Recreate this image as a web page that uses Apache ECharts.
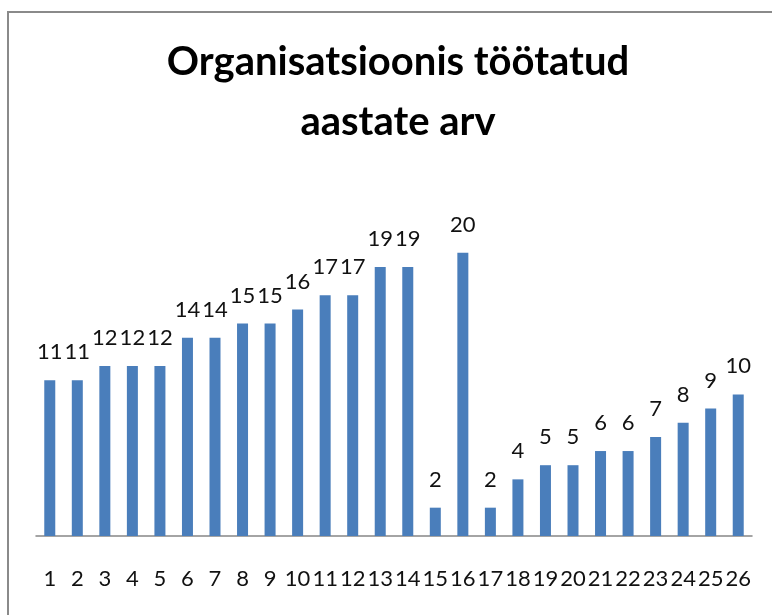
<!DOCTYPE html>
<html>
<head>
<meta charset="utf-8">
<script src="https://cdn.jsdelivr.net/npm/echarts@6/dist/echarts.min.js"></script>
<style>
  html, body { margin: 0; padding: 0; background: #fff; }
  #chart { width: 772px; height: 615px; }
</style>
</head>
<body>
<div id="chart"></div>
<script>
// category labels along the x axis
const categories = ['1','2','3','4','5','6','7','8','9','10','11','12','13',
  '14','15','16','17','18','19','20','21','22','23','24','25','26'];
// years worked in the organisation
const years = [11, 11, 12, 12, 12, 14, 14, 15, 15, 16, 17, 17, 19,
  19, 2, 20, 2, 4, 5, 5, 6, 6, 7, 8, 9, 10];

const chart = echarts.init(document.getElementById('chart'));

const chartOptions = {
  backgroundColor: '#fff',
  animation: false,
  title: {
    text: 'Organisatsioonis töötatud\naastate arv',
    left: 393,
    textAlign: 'center',
    top: 27,
    textStyle: {
      fontFamily: 'Lato',
      fontWeight: 'bold',
      fontSize: 40,
      lineHeight: 60,
      color: '#000'
    }
  },
  graphic: [
    {
      type: 'rect',
      shape: { x: 8, y: 12, width: 900, height: 900 },
      style: { fill: 'none', stroke: '#8a8a8a', lineWidth: 2 },
      silent: true
    }
  ],
  grid: {
    left: 36,
    right: 20,
    top: 182,
    bottom: 79
  },
  xAxis: {
    type: 'category',
    data: categories,
    axisLine: { lineStyle: { color: '#868686', width: 1.5 } },
    axisTick: { show: false },
    axisLabel: {
      interval: 0,
      margin: 32,
      fontFamily: 'Lato',
      fontSize: 22,
      color: '#111'
    }
  },
  yAxis: {
    type: 'value',
    min: 0,
    max: 25,
    show: false,
    splitLine: { show: false }
  },
  series: [
    {
      name: 'aastad',
      type: 'bar',
      data: years,
      barWidth: 11,
      itemStyle: { color: '#4A7EBB' },
      label: {
        show: true,
        position: 'top',
        distance: 17,
        fontFamily: 'Lato',
        fontSize: 22,
        color: '#111'
      }
    }
  ]
};
chart.setOption(chartOptions);
</script>
</body>
</html>
